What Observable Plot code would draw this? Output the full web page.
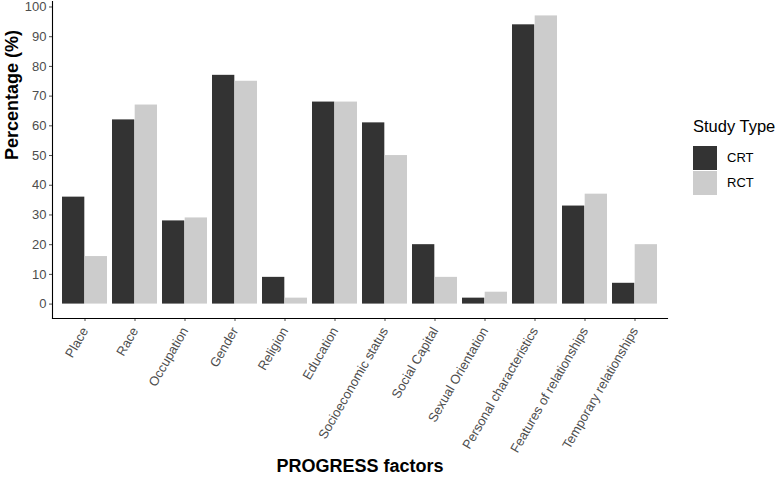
<!DOCTYPE html>
<html><head>
<meta charset="utf-8">
<script src="https://cdn.jsdelivr.net/npm/d3@7"></script>
<script src="https://cdn.jsdelivr.net/npm/@observablehq/plot@0.6"></script>
<style>
body{margin:0;background:#fff;font-family:"Liberation Sans",Arial,sans-serif}
#wrap{position:relative;width:778px;height:478px;overflow:hidden}
#legend{position:absolute;left:693px;top:117px;color:#000}
#legend .title{font-size:16.5px;margin-bottom:9px;white-space:nowrap}
#legend .row{display:flex;align-items:center;height:25px}
#legend .key{width:24px;height:24px;margin-right:10px}
#legend .lab{font-size:13px;color:#000}
</style></head><body><div id="wrap"></div>
<script>
const categories = ["Place","Race","Occupation","Gender","Religion","Education","Socioeconomic status","Social Capital","Sexual Orientation","Personal characteristics","Features of relationships","Temporary relationships"];
const crtValues = [36,62,28,77,9,68,61,20,2,94,33,7];
const rctValues = [16,67,29,75,2,68,50,9,4,97,37,20];
const studyTypes = ["CRT","RCT"];
const studyColors = ["#333333","#cccccc"];
const yTicks = [0,10,20,30,40,50,60,70,80,90,100];
const xTitle = "PROGRESS factors";
const yTitle = "Percentage (%)";
const legendTitle = "Study Type";

const crtData = categories.map((c,i)=>({category:c,type:"CRT",value:crtValues[i]}));
const rctData = categories.map((c,i)=>({category:c,type:"RCT",value:rctValues[i]}));

const W=778,H=478,ml=52,mr=111,mt=1,mb=160;
const padInner=0.1,padOuter=0.15;
const step=(W-ml-mr)/(categories.length-padInner+2*padOuter);
const half=step*(1-padInner)/2;
const yMin=-4.85,yMax=101.85;

const chart = Plot.plot({
  width:W,height:H,marginLeft:ml,marginRight:mr,marginTop:mt,marginBottom:mb,
  style:{fontFamily:"'Liberation Sans',Arial,sans-serif",background:"white",overflow:"visible"},
  x:{domain:categories,paddingInner:padInner,paddingOuter:padOuter,label:null},
  y:{domain:[yMin,yMax],label:null},
  color:{domain:studyTypes,range:studyColors},
  marks:[
    Plot.barY(crtData,{x:"category",y1:0,y2:"value",fill:"type",insetRight:half,insetLeft:0}),
    Plot.barY(rctData,{x:"category",y1:0,y2:"value",fill:"type",insetLeft:half,insetRight:0}),
    Plot.axisY({ticks:yTicks,tickSize:3,tickPadding:3,fontSize:13,color:"#4d4d4d",label:null}),
    Plot.axisX({tickSize:3,tickPadding:7,tickRotate:-60,fontSize:13,color:"#4d4d4d",label:null}),
    Plot.frame({anchor:"left",stroke:"black",strokeWidth:1.1}),
    Plot.frame({anchor:"bottom",stroke:"black",strokeWidth:1.1}),
    Plot.text([yTitle],{frameAnchor:"left",dx:-40,rotate:-90,fontWeight:"bold",fontSize:18,fill:"black"}),
    Plot.text([xTitle],{frameAnchor:"bottom",dy:153,fontWeight:"bold",fontSize:18,fill:"black"})
  ]
});
const wrap=document.getElementById("wrap");
wrap.appendChild(chart);
const leg=document.createElement("div");
leg.id="legend";
leg.innerHTML=`<div class="title">${legendTitle}</div>`+studyTypes.map((t,i)=>`<div class="row"><div class="key" style="background:${studyColors[i]}"></div><span class="lab">${t}</span></div>`).join("");
wrap.appendChild(leg);
</script>
</body></html>
